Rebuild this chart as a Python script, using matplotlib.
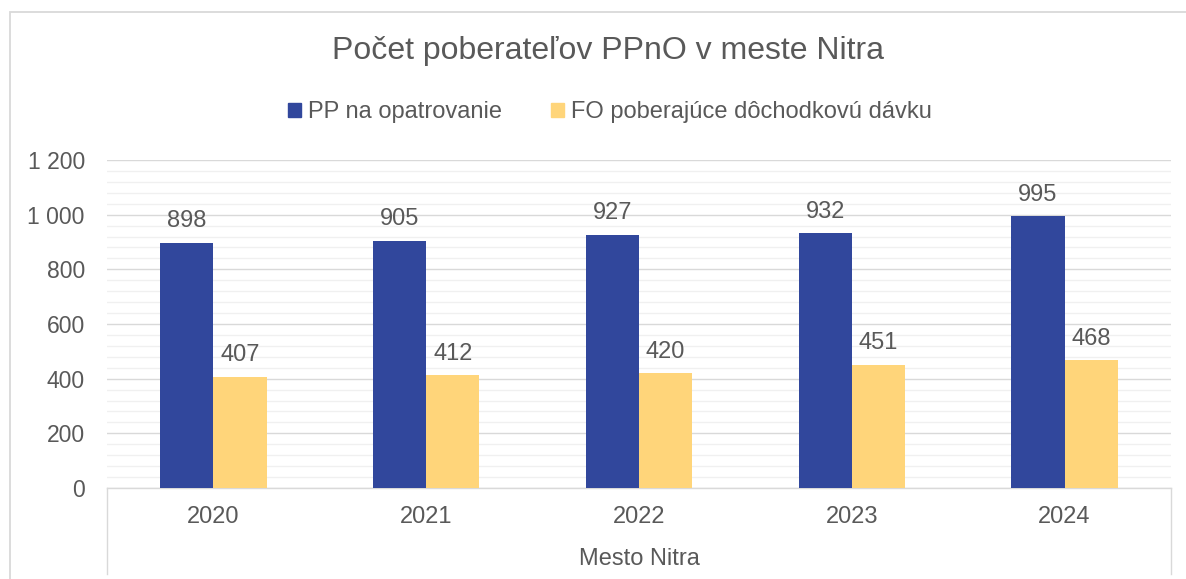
import matplotlib
matplotlib.use("Agg")
import matplotlib.pyplot as plt
from matplotlib.lines import Line2D
from matplotlib.patches import Rectangle
import numpy as np

plt.rcParams['font.family'] = ['Liberation Sans', 'DejaVu Sans']

years = ["2020", "2021", "2022", "2023", "2024"]
pp_opatrovanie = [898, 905, 927, 932, 995]
fo_davka = [407, 412, 420, 451, 468]
series_names = ["PP na opatrovanie", "FO poberajúce dôchodkovú dávku"]
title = "Počet poberateľov PPnO v meste Nitra"
group_label = "Mesto Nitra"
ytick_labels = ["0", "200", "400", "600", "800", "1 000", "1 200"]

W, H = 1186, 579
fig = plt.figure(figsize=(W / 100, H / 100), dpi=100)
TXT = "#595959"
BLUE = "#31479C"
YEL = "#FFD57A"

x0, x1, ytop, ybot = 107, 1171, 160, 488
ax = fig.add_axes([x0 / W, (H - ybot) / H, (x1 - x0) / W, (ybot - ytop) / H])

x = np.arange(len(years))
bw = 0.25
b1 = ax.bar(x - bw / 2, pp_opatrovanie, bw, color=BLUE, zorder=3)
b2 = ax.bar(x + bw / 2, fo_davka, bw, color=YEL, zorder=3)
for bars, vals in ((b1, pp_opatrovanie), (b2, fo_davka)):
    for r, v in zip(bars, vals):
        ax.annotate(str(v), (r.get_x() + r.get_width() / 2, v), xytext=(0, 11),
                    textcoords="offset points", ha="center", va="baseline",
                    fontsize=17, color=TXT)

ax.set_xlim(-0.5, len(years) - 0.5)
ax.set_ylim(0, 1200)
ax.set_yticks(np.arange(0, 1201, 200))
ax.set_yticklabels(ytick_labels)
ax.set_yticks(np.arange(0, 1201, 40), minor=True)
ax.grid(axis='y', which='minor', color='#F0F0F0', linewidth=1.0, zorder=0)
ax.grid(axis='y', which='major', color='#D9D9D9', linewidth=1.0, zorder=1)
ax.tick_params(axis='y', which='both', length=0, labelsize=16.5, labelcolor=TXT, pad=16)
ax.set_xticks(x)
ax.set_xticklabels(years)
ax.tick_params(axis='x', length=0, labelsize=17, labelcolor=TXT, pad=13)
for s in ['top', 'right', 'left']:
    ax.spines[s].set_visible(False)
ax.spines['bottom'].set_color('#D9D9D9')
ax.spines['bottom'].set_linewidth(1.0)
ax.set_axisbelow(True)

# category box sides
for px in (x0, x1):
    fig.add_artist(Line2D([px / W, px / W], [(H - ybot) / H, (H - 574) / H],
                          color='#D9D9D9', linewidth=1.0))

fig.text((x0 + x1) / 2 / W, (H - 559) / H, group_label, ha='center', va='center',
         fontsize=17, color=TXT)

fig.text(608 / W, (H - 51) / H, title, ha='center', va='center', fontsize=23, color=TXT)

# legend
leg = fig.legend([Rectangle((0, 0), 1, 1, color=BLUE), Rectangle((0, 0), 1, 1, color=YEL)],
                 series_names, loc='center', bbox_to_anchor=(610 / W, (H - 112) / H),
                 ncol=2, frameon=False, fontsize=17, handlelength=0.55, handleheight=0.55,
                 handletextpad=0.3, columnspacing=2.1, labelcolor=TXT)

# outer chart border
fig.add_artist(Rectangle((9.5 / W, -0.1), 1.2, (H - 12.5) / H + 0.1, transform=fig.transFigure,
                         fill=False, edgecolor='#D9D9D9', linewidth=1.3))

fig.savefig("out.png", dpi=100)
